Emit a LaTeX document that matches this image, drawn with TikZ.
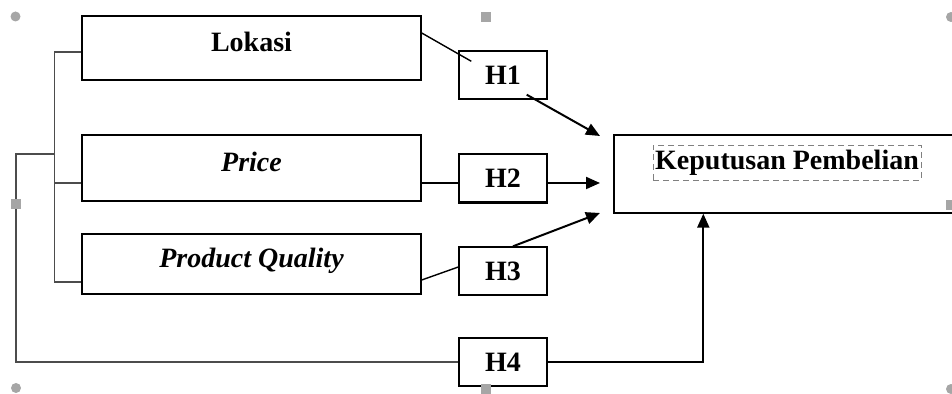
\documentclass[tikz,border=0pt]{standalone}
\usepackage{fontspec}
\setmainfont{Liberation Serif}
\usetikzlibrary{arrows.meta}
\tikzset{
  varbox/.style={draw, line width=0.7pt, minimum width=169.5pt, inner sep=0pt, text height=10pt, text depth=6pt},
  hbox/.style={draw, line width=0.7pt, minimum width=44pt, minimum height=24pt, inner sep=0pt},
  arr/.style={-{Triangle[length=7pt,width=6pt]}, line width=1pt},
  brk/.style={draw=black!70, line width=0.7pt},
  handle/.style={fill=black!35}
}
\begin{document}
\begin{tikzpicture}[x=0.5pt,y=-0.5pt,font=\fontsize{14}{16}\selectfont\bfseries]
\useasboundingbox (0,0) rectangle (952,394);
\node(lok) at (251.5,48) [varbox, minimum height=32pt]{Lokasi};
\node(pr) at (251.5,168) [varbox, minimum height=33pt]{\itshape Price};
\node(pq) at (251.5,264) [varbox, minimum height=30pt]{\itshape Product Quality};
\node(h1) at (503,75) [hbox]{H1};
\node(h2) at (503,178) [hbox]{H2};
\node(h3) at (503,271) [hbox]{H3};
\node(h4) at (503,362) [hbox]{H4};
\node(kp) at (787,174) [draw, line width=0.7pt, minimum width=173pt, minimum height=39pt]{};
\node(kpt) at (787,162.5) [draw=gray, densely dashed, line width=0.4pt, minimum width=134pt, minimum height=17.5pt, inner sep=0pt, text height=10pt, text depth=2.5pt]{Keputusan Pembelian};
\coordinate(t1) at (600,136);
\coordinate(t2) at (600,183);
\coordinate(t3) at (600,213);
\coordinate(jn) at (55,154);

\draw [line width=0.7pt] ([yshift=7.5pt]lok.east) -- ([xshift=6.5pt,yshift=-5.5pt]h1.north west);
\draw [line width=0.7pt] ([yshift=-7.5pt]pr.east) -- ([yshift=-7.5pt]pr.east -| h2.west);
\draw [line width=0.7pt] ([yshift=-8pt]pq.east) -- ([yshift=2pt]h3.west);
\draw [line width=1.2pt] (h2.south west) -- (h2.south east);

\draw [arr] ([xshift=-10.5pt,yshift=2.5pt]h1.south east) -- (t1);
\draw [arr] (h2.east |- t2) -- (t2);
\draw [arr] ([xshift=5pt]h3.north) -- (t3);
\draw [arr] (h4.east) -| ([xshift=45pt]kp.south west);

% left bracket
\draw [brk] ([yshift=-2pt]lok.west) -- ++(-27,0) |- ([yshift=-9pt]pq.west);
\draw [brk] ([yshift=-7.5pt]pr.west) -- ++(-27,0);
\draw [brk] (jn) -- ++(-39,0) |- (h4.west);

% selection handles
\fill [handle] (15.5,16.5) circle (2.5pt);
\fill [handle] (16,388) circle (2.5pt);
\fill [handle] (951,17) circle (2.5pt);
\fill [handle] (951,389) circle (2.5pt);
\fill [handle] (481,12) rectangle (491,22);
\fill [handle] (11,199) rectangle (21,209);
\fill [handle] (481,384) rectangle (491,394);
\fill [handle] (946,200) rectangle (956,210);
\end{tikzpicture}
\end{document}
